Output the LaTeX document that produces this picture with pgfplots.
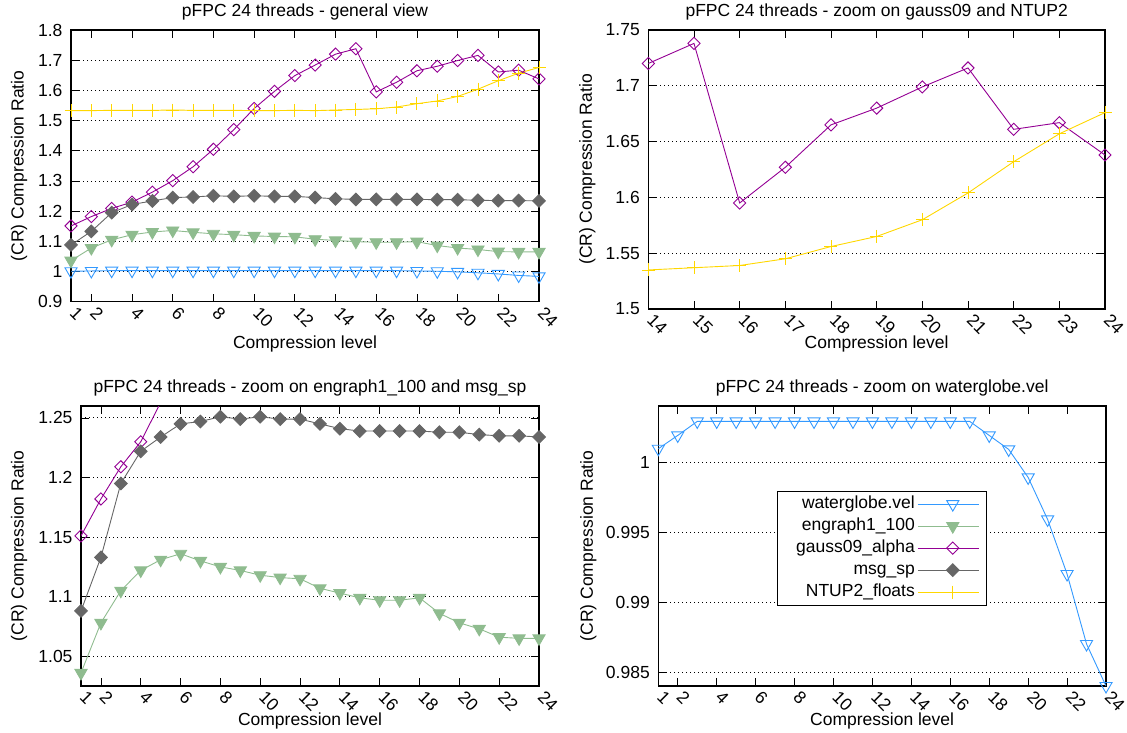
\documentclass[border=0pt]{standalone}
\usepackage{pgfplots}
\pgfplotsset{compat=1.18}
\usepackage{pgfplotstable}
\usepackage{fontspec}
\setmainfont{Liberation Sans}

\definecolor{cwater}{RGB}{51,153,255}
\definecolor{ceng}{RGB}{143,188,143}
\definecolor{cgauss}{RGB}{148,0,148}
\definecolor{cmsg}{RGB}{102,102,102}
\definecolor{cntup}{RGB}{255,215,0}

% compression ratio per level
\pgfplotstableread{
lvl water eng gauss msg ntup
1 1.00095 1.036 1.151 1.088 1.533
2 1.0019 1.078 1.182 1.133 1.533
3 1.0029 1.105 1.209 1.195 1.534
4 1.0029 1.122 1.230 1.222 1.534
5 1.0029 1.131 1.263 1.234 1.534
6 1.0029 1.136 1.301 1.245 1.535
7 1.0029 1.130 1.347 1.247 1.534
8 1.0029 1.125 1.405 1.251 1.534
9 1.0029 1.122 1.470 1.249 1.534
10 1.0029 1.118 1.540 1.251 1.533
11 1.0029 1.116 1.597 1.249 1.533
12 1.0029 1.115 1.649 1.249 1.534
13 1.0029 1.107 1.684 1.245 1.533
14 1.0029 1.103 1.720 1.241 1.535
15 1.0029 1.099 1.738 1.239 1.537
16 1.0029 1.097 1.595 1.239 1.539
17 1.0029 1.097 1.627 1.239 1.545
18 1.0019 1.099 1.665 1.239 1.556
19 1.0009 1.086 1.680 1.238 1.565
20 0.9989 1.078 1.699 1.238 1.580
21 0.9959 1.073 1.716 1.236 1.604
22 0.9920 1.066 1.661 1.235 1.632
23 0.9870 1.065 1.667 1.235 1.657
24 0.9840 1.065 1.638 1.234 1.676
}\data

\newcommand{\fs}{\fontsize{17.5}{21}\selectfont}

\pgfplotsset{
  panel/.style={
    scale only axis, anchor=south west,
    xmin=1, xmax=24, xtick={1,2,4,...,24},
    tick align=inside, major tick length=8pt,
    tick style={black, line width=0.8pt},
    axis line style={black, line width=1.2pt},
    ymajorgrids,
    major grid style={black, line width=0.9pt, dash pattern=on 0.9pt off 3.1pt},
    /pgf/number format/assume math mode=true,
    ticklabel style={font=\fs},
    label style={font=\fs},
    title style={font=\fs, at={(axis description cs:0.5,1)}, anchor=base, yshift=8pt},
    yticklabel style={xshift=-5pt},
    xticklabel style={yshift=-8pt, xshift=2pt, rotate=-45, anchor=west, inner sep=0pt},
    xlabel={Compression level},
    ylabel={(CR) Compression Ratio},
    legend image code/.code={%
      \path (0pt,0pt) -- (61pt,0pt);
      \draw[mark repeat=2,mark phase=2] plot coordinates {(10pt,0pt) (35pt,0pt) (60pt,0pt)};},
  },
  swater/.style={color=cwater, line width=0.9pt, mark=triangle, mark size=7pt, mark options={rotate=180}},
  seng/.style={color=ceng, line width=0.9pt, mark=triangle*, mark size=7pt, mark options={rotate=180}},
  sgauss/.style={color=cgauss, line width=0.9pt, mark=square, mark size=4.3pt, mark options={rotate=45}},
  smsg/.style={color=cmsg, line width=0.9pt, mark=square*, mark size=4.5pt, mark options={rotate=45}},
  sntup/.style={color=cntup, line width=0.9pt, mark=+, mark size=6.5pt},
}

\newcommand{\allplots}{%
  \addplot[swater] table[x=lvl,y=water]{\data};
  \addplot[seng] table[x=lvl,y=eng]{\data};
  \addplot[sgauss] table[x=lvl,y=gauss]{\data};
  \addplot[smsg] table[x=lvl,y=msg]{\data};
  \addplot[sntup] table[x=lvl,y=ntup]{\data};
}

\begin{document}
\begin{tikzpicture}
\path (0pt,0pt) rectangle (1127pt,-731pt);

\begin{axis}[panel, at={(71pt,-300pt)}, width=468pt, height=271.7pt,
  ymin=0.9, ymax=1.8, ytick={0.9,1,...,1.8},
  title={pFPC 24 threads - general view},
  xlabel style={at={(axis description cs:0.5,0)}, anchor=center, yshift=-42pt},
  ylabel style={at={([xshift=-52pt]axis description cs:0,0.5)}, anchor=center}]
\allplots
\end{axis}

\begin{axis}[panel, at={(648.3pt,-307.3pt)}, width=456.7pt, height=279pt,
  xmin=14, xmax=24, xtick={14,...,24},
  ymin=1.5, ymax=1.75, ytick={1.5,1.55,...,1.75},
  title={pFPC 24 threads - zoom on gauss09 and NTUP2},
  xlabel style={at={(axis description cs:0.5,0)}, anchor=center, yshift=-35pt},
  ylabel style={at={([xshift=-61pt]axis description cs:0,0.5)}, anchor=center}]
\allplots
\end{axis}

\begin{axis}[panel, at={(81pt,-684.3pt)}, width=458pt, height=280pt,
  ymin=1.025, ymax=1.26, ytick={1.05,1.1,...,1.25},
  title={pFPC 24 threads - zoom on engraph1\_100 and msg\_sp},
  xlabel style={at={(axis description cs:0.5,0)}, anchor=center, yshift=-35pt},
  ylabel style={at={([xshift=-62pt]axis description cs:0,0.5)}, anchor=center}]
\allplots
\end{axis}

\begin{axis}[panel, at={(658.3pt,-684.3pt)}, width=447.7pt, height=280pt,
  ymin=0.984, ymax=1.004, ytick={0.985,0.99,0.995,1},
  yticklabels={0.985,0.99,0.995,1},
  title={pFPC 24 threads - zoom on waterglobe.vel},
  xlabel style={at={(axis description cs:0.5,0)}, anchor=center, yshift=-35pt},
  ylabel style={at={([xshift=-70pt]axis description cs:0,0.5)}, anchor=center},
  legend plot pos=right, legend cell align=right,
  legend style={at={(axis description cs:0.265,0.6975)}, anchor=north west,
    draw=black, line width=0.8pt, font=\fs, inner xsep=7pt, inner ysep=2pt,
    nodes={text height=13pt, text depth=4pt, inner sep=2.5pt, text width=128pt, align=right}}]
\allplots
\legend{waterglobe.vel, engraph1\_100, gauss09\_alpha, msg\_sp, NTUP2\_floats}
\end{axis}
\end{tikzpicture}
\end{document}
